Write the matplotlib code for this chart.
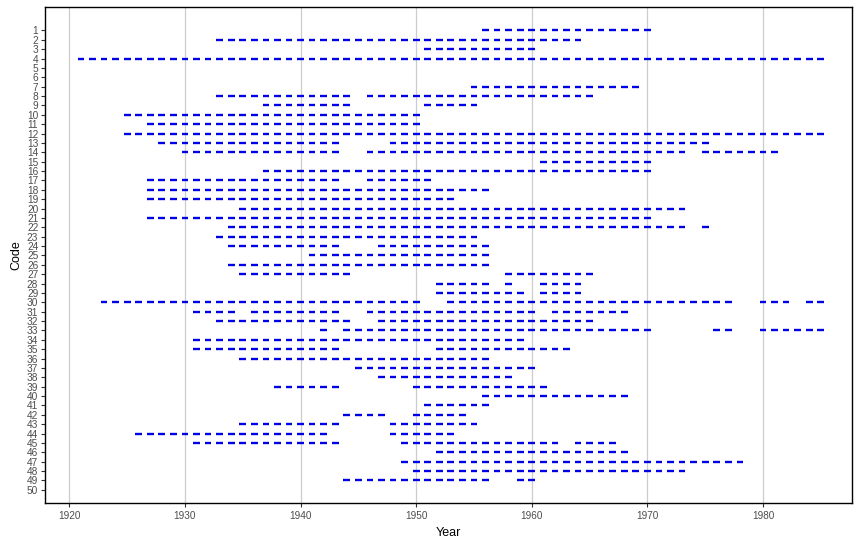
import numpy as np
import matplotlib.pyplot as plt

plt.rcParams['font.family'] = ['Liberation Sans', 'DejaVu Sans']

# one entry per continuous run of years: code, first year, last year
seg_code = [1, 2, 3, 4, 7,
            8, 8, 9, 9, 10, 11, 12,
            13, 13, 14, 14, 14, 15, 16,
            17, 17, 18, 19, 20, 21, 22, 22,
            23, 24, 24, 25, 26, 27, 27,
            28, 28, 28, 29, 29,
            30, 30, 30, 30,
            31, 31, 31, 31, 32, 32,
            33, 33, 33, 33, 34, 35, 35,
            36, 37, 38, 39, 39, 40, 41,
            42, 42, 43, 43, 44, 44,
            45, 45, 45, 46, 47, 48, 49, 49]
seg_start = [1956, 1933, 1951, 1921, 1955,
             1933, 1946, 1937, 1951, 1925, 1927, 1925,
             1928, 1948, 1930, 1946, 1975, 1961, 1937,
             1927, 1946, 1927, 1927, 1935, 1927, 1934, 1975,
             1933, 1934, 1947, 1941, 1934, 1935, 1958,
             1952, 1958, 1961, 1952, 1961,
             1923, 1953, 1980, 1984,
             1931, 1936, 1946, 1962, 1933, 1947,
             1942, 1944, 1976, 1980, 1931, 1931, 1952,
             1935, 1945, 1947, 1938, 1950, 1956, 1951,
             1944, 1950, 1935, 1948, 1926, 1948,
             1931, 1949, 1964, 1952, 1949, 1950, 1944, 1959]
seg_end = [1970, 1964, 1960, 1985, 1969,
           1944, 1965, 1944, 1955, 1950, 1950, 1985,
           1943, 1975, 1943, 1973, 1981, 1970, 1970,
           1943, 1951, 1956, 1953, 1973, 1970, 1973, 1975,
           1955, 1943, 1956, 1956, 1956, 1944, 1965,
           1956, 1958, 1964, 1959, 1964,
           1950, 1977, 1982, 1985,
           1934, 1943, 1960, 1968, 1944, 1965,
           1942, 1970, 1977, 1985, 1959, 1943, 1963,
           1956, 1960, 1958, 1943, 1961, 1968, 1956,
           1947, 1954, 1943, 1955, 1942, 1953,
           1943, 1962, 1967, 1968, 1978, 1973, 1956, 1960]

codes = list(range(1, 51))
x_ticks = [1920, 1930, 1940, 1950, 1960, 1970, 1980]

# expand runs into single years, one short dash per year
ys = []
xs = []
for c, s, e in zip(seg_code, seg_start, seg_end):
    yrs = np.arange(s, e + 1)
    xs.extend(yrs)
    ys.extend([c] * len(yrs))
xs = np.array(xs, dtype=float)
ys = np.array(ys, dtype=float)

fig = plt.figure(figsize=(8.64, 5.44), dpi=100)
ax = fig.add_axes([44.5 / 864, 41 / 544, 807.5 / 864, 496 / 544])

ax.hlines(ys, xs - 0.29, xs + 0.29, colors='#0000E6', linewidth=1.7, capstyle='butt', zorder=3)

ax.set_xlim(1917.85, 1987.7)
ax.set_ylim(51.4, -1.5)
ax.set_xticks(x_ticks)
ax.set_xticklabels([str(t) for t in x_ticks])
ax.set_yticks(codes)
ax.set_yticklabels([str(c) for c in codes])

ax.grid(axis='x', color='#CCCCCC', linewidth=0.9)
ax.set_axisbelow(True)
for sp in ax.spines.values():
    sp.set_color('black')
    sp.set_linewidth(1.0)

ax.tick_params(axis='y', length=3, width=0.8, color='#333333', labelsize=7.3,
               labelcolor='#4D4D4D', pad=1.5)
ax.tick_params(axis='x', length=3, width=0.8, color='#333333', labelsize=7.2,
               labelcolor='#4D4D4D', pad=3)

ax.set_xlabel('Year', fontsize=9, labelpad=4)
ax.set_ylabel('Code', fontsize=9, labelpad=3)

fig.savefig('out.png', dpi=100)
